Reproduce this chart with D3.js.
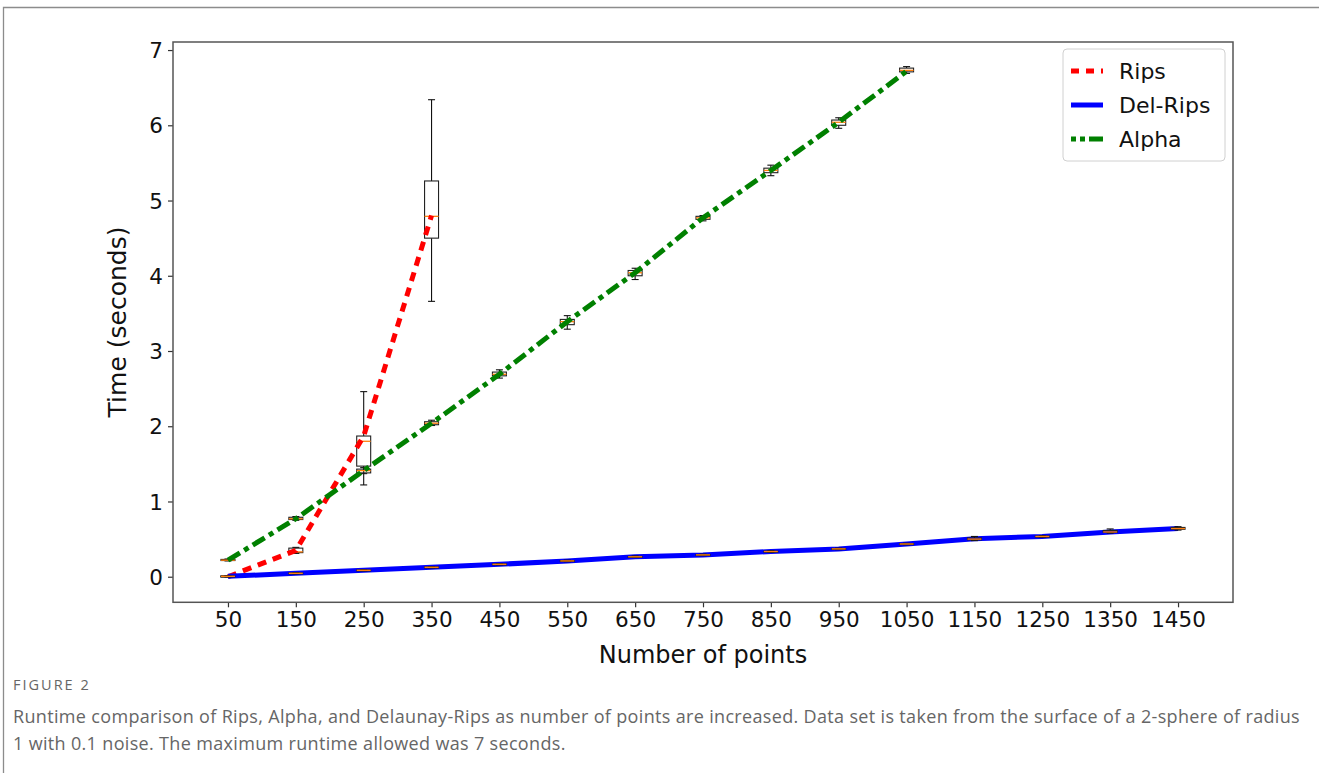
<!DOCTYPE html>
<html>
<head>
<meta charset="utf-8">
<script src="https://cdn.jsdelivr.net/npm/d3@7"></script>
<style>
  body { margin: 0; background: #fff; }
  svg { display: block; }
</style>
</head>
<body>
<div id="chart"></div>
<script>
const WIDTH = 1319;
const HEIGHT = 773;

const categories = ["50", "150", "250", "350", "450", "550", "650", "750", "850", "950", "1050", "1150", "1250", "1350", "1450"];

// line values (seconds)
const ripsLine = [0.0, 0.35, 1.87, 4.80];
const delRipsLine = [0.005, 0.045, 0.085, 0.125, 0.165, 0.21, 0.265, 0.29, 0.335, 0.37, 0.435, 0.505, 0.535, 0.595, 0.64];
const alphaLine = [0.22, 0.77, 1.41, 2.04, 2.69, 3.39, 4.04, 4.77, 5.40, 6.04, 6.72];

// box stats: [low whisker, q1, median, q3, high whisker]
const ripsBoxes = [
  [0.0, 0.0, 0.005, 0.01, 0.01],
  [0.31, 0.32, 0.33, 0.38, 0.39],
  [1.22, 1.47, 1.80, 1.87, 2.46],
  [3.66, 4.50, 4.79, 5.26, 6.34]
];
const alphaBoxes = [
  [0.21, 0.215, 0.22, 0.23, 0.235],
  [0.75, 0.76, 0.77, 0.79, 0.80],
  [1.37, 1.38, 1.41, 1.43, 1.45],
  [2.01, 2.02, 2.04, 2.06, 2.08],
  [2.64, 2.67, 2.69, 2.72, 2.75],
  [3.29, 3.35, 3.39, 3.42, 3.47],
  [3.95, 4.00, 4.04, 4.07, 4.10],
  [4.73, 4.75, 4.77, 4.79, 4.80],
  [5.33, 5.37, 5.40, 5.43, 5.47],
  [5.96, 6.00, 6.04, 6.07, 6.10],
  [6.69, 6.71, 6.73, 6.76, 6.78]
];
const delRipsBoxes = [
  [0.0, 0.0, 0.005, 0.01, 0.015],
  [0.04, 0.04, 0.045, 0.05, 0.055],
  [0.08, 0.08, 0.085, 0.09, 0.095],
  [0.12, 0.12, 0.125, 0.13, 0.135],
  [0.16, 0.16, 0.165, 0.17, 0.175],
  [0.20, 0.205, 0.21, 0.215, 0.22],
  [0.255, 0.26, 0.265, 0.27, 0.275],
  [0.28, 0.285, 0.29, 0.295, 0.30],
  [0.325, 0.33, 0.335, 0.34, 0.345],
  [0.36, 0.365, 0.37, 0.375, 0.38],
  [0.425, 0.43, 0.435, 0.44, 0.445],
  [0.48, 0.49, 0.50, 0.515, 0.535],
  [0.525, 0.53, 0.535, 0.54, 0.545],
  [0.58, 0.59, 0.595, 0.615, 0.635],
  [0.62, 0.63, 0.64, 0.655, 0.665]
];

const yTicks = [0, 1, 2, 3, 4, 5, 6, 7];

const PLOT = { LEFT: 173, RIGHT: 1233, TOP: 42, BOTTOM: 602.3 };

const SVG = d3.select("#chart")
  .append("svg")
  .attr("width", WIDTH)
  .attr("height", HEIGHT);

// card frame
SVG.append("path")
  .attr("d", `M3.5,${HEIGHT} V7.5 H${WIDTH}`)
  .attr("fill", "none")
  .attr("stroke", "#8c8c8c")
  .attr("stroke-width", 1.3);

const x = d3.scaleLinear()
  .domain([-0.81, 14.81])
  .range([PLOT.LEFT, PLOT.RIGHT]);

const y = d3.scaleLinear()
  .domain([-0.34, 7.107])
  .range([PLOT.BOTTOM, PLOT.TOP]);

const tickFont = "'DejaVu Sans', sans-serif";

// axes
const xAxis = SVG.append("g")
  .attr("transform", `translate(0, ${PLOT.BOTTOM})`)
  .call(d3.axisBottom(x)
    .tickValues(d3.range(categories.length))
    .tickFormat(i => categories[i])
    .tickSize(5)
    .tickPadding(4));

const yAxis = SVG.append("g")
  .attr("transform", `translate(${PLOT.LEFT}, 0)`)
  .call(d3.axisLeft(y)
    .tickValues(yTicks)
    .tickFormat(d3.format("d"))
    .tickSize(5)
    .tickPadding(5));

[xAxis, yAxis].forEach(ax => {
  ax.select(".domain").remove();
  ax.selectAll(".tick line").attr("stroke", "#333").attr("stroke-width", 1.2);
  ax.selectAll(".tick text")
    .attr("fill", "#111")
    .style("font-family", tickFont)
    .style("font-size", "21.5px");
});
yAxis.selectAll(".tick text").attr("dy", "0.35em");

const plot = SVG.append("g");

const drawBoxes = (stats, cls) => {
  const half = (x(1) - x(0)) * 0.103;
  const cap = half * 0.5;
  const g = plot.append("g").attr("class", cls);
  stats.forEach((s, i) => {
    const cx = x(i);
    const [lo, q1, med, q3, hi] = s;
    const b = g.append("g");
    b.append("line")
      .attr("x1", cx).attr("x2", cx)
      .attr("y1", y(hi)).attr("y2", y(q3))
      .attr("stroke", "#111").attr("stroke-width", 1.1);
    b.append("line")
      .attr("x1", cx).attr("x2", cx)
      .attr("y1", y(q1)).attr("y2", y(lo))
      .attr("stroke", "#111").attr("stroke-width", 1.1);
    [lo, hi].forEach(v => {
      b.append("line")
        .attr("x1", cx - cap).attr("x2", cx + cap)
        .attr("y1", y(v)).attr("y2", y(v))
        .attr("stroke", "#111").attr("stroke-width", 1.1);
    });
    b.append("rect")
      .attr("x", cx - half)
      .attr("y", y(q3))
      .attr("width", half * 2)
      .attr("height", Math.max(1, y(q1) - y(q3)))
      .attr("fill", "none")
      .attr("stroke", "#222")
      .attr("stroke-width", 1.1);
    b.append("line")
      .attr("x1", cx - half).attr("x2", cx + half)
      .attr("y1", y(med)).attr("y2", y(med))
      .attr("stroke", "#ff7f0e").attr("stroke-width", 1.3);
  });
};

const lineGen = d3.line()
  .x((d, i) => x(i))
  .y(d => y(d));

drawBoxes(ripsBoxes, "rips-box");
drawBoxes(alphaBoxes, "alpha-box");

const series = [
  { name: "Rips", values: ripsLine, color: "#ff0000", dash: "9,7", legendDash: "8,7" },
  { name: "Del-Rips", values: delRipsLine, color: "#0000ff", dash: null, legendDash: null },
  { name: "Alpha", values: alphaLine, color: "#008000", dash: "14,5,5,5", legendDash: "5,4,5,4,14,0" }
];

series.forEach(s => {
  plot.append("path")
    .datum(s.values)
    .attr("d", lineGen)
    .attr("fill", "none")
    .attr("stroke", s.color)
    .attr("stroke-width", 5)
    .attr("stroke-dasharray", s.dash);
});

drawBoxes(delRipsBoxes, "delrips-box");

// axes frame
SVG.append("rect")
  .attr("x", PLOT.LEFT)
  .attr("y", PLOT.TOP)
  .attr("width", PLOT.RIGHT - PLOT.LEFT)
  .attr("height", PLOT.BOTTOM - PLOT.TOP)
  .attr("fill", "none")
  .attr("stroke", "#555")
  .attr("stroke-width", 1.5);

// legend
const legend = SVG.append("g").attr("transform", "translate(1063, 49)");
legend.append("rect")
  .attr("width", 162)
  .attr("height", 112)
  .attr("rx", 4)
  .attr("fill", "rgba(255,255,255,0.8)")
  .attr("stroke", "#d0d0d0")
  .attr("stroke-width", 1);

series.forEach((s, i) => {
  const ly = 22 + i * 34;
  legend.append("line")
    .attr("x1", 8).attr("x2", 40)
    .attr("y1", ly).attr("y2", ly)
    .attr("stroke", s.color)
    .attr("stroke-width", 5)
    .attr("stroke-dasharray", s.legendDash);
  legend.append("text")
    .attr("x", 56)
    .attr("y", ly)
    .attr("dy", "0.36em")
    .style("font-family", tickFont)
    .style("font-size", "22px")
    .attr("fill", "#111")
    .text(s.name);
});

// axis titles
SVG.append("text")
  .attr("x", (PLOT.LEFT + PLOT.RIGHT) / 2)
  .attr("y", 663)
  .attr("text-anchor", "middle")
  .style("font-family", tickFont)
  .style("font-size", "24px")
  .attr("fill", "#111")
  .text("Number of points");

SVG.append("text")
  .attr("transform", "translate(126, 322) rotate(-90)")
  .attr("text-anchor", "middle")
  .style("font-family", tickFont)
  .style("font-size", "25px")
  .attr("fill", "#111")
  .text("Time (seconds)");

// caption
const fig = SVG.append("text")
  .attr("x", 13)
  .attr("y", 690)
  .style("font-family", "'Open Sans', sans-serif")
  .style("font-size", "14.5px")
  .attr("fill", "#666")
  .text("FIGURE 2");
{
  const n = "FIGURE 2".length;
  const extra = (88 - fig.node().getComputedTextLength()) / n;
  fig.style("letter-spacing", `${Math.min(2, Math.max(0, extra))}px`);
}

const captionLines = [
  "Runtime comparison of Rips, Alpha, and Delaunay-Rips as number of points are increased. Data set is taken from the surface of a 2-sphere of radius",
  "1 with 0.1 noise. The maximum runtime allowed was 7 seconds."
];
const capTexts = captionLines.map((t, i) =>
  SVG.append("text")
    .attr("x", 13)
    .attr("y", 723 + i * 27)
    .style("font-family", "'Open Sans', sans-serif")
    .style("font-size", "18px")
    .attr("fill", "#666")
    .text(t)
);
{
  const first = capTexts[0];
  const spacing = (1287 - first.node().getComputedTextLength()) / captionLines[0].length;
  capTexts.forEach(t => t.style("letter-spacing", `${spacing}px`));
}
</script>
</body>
</html>
